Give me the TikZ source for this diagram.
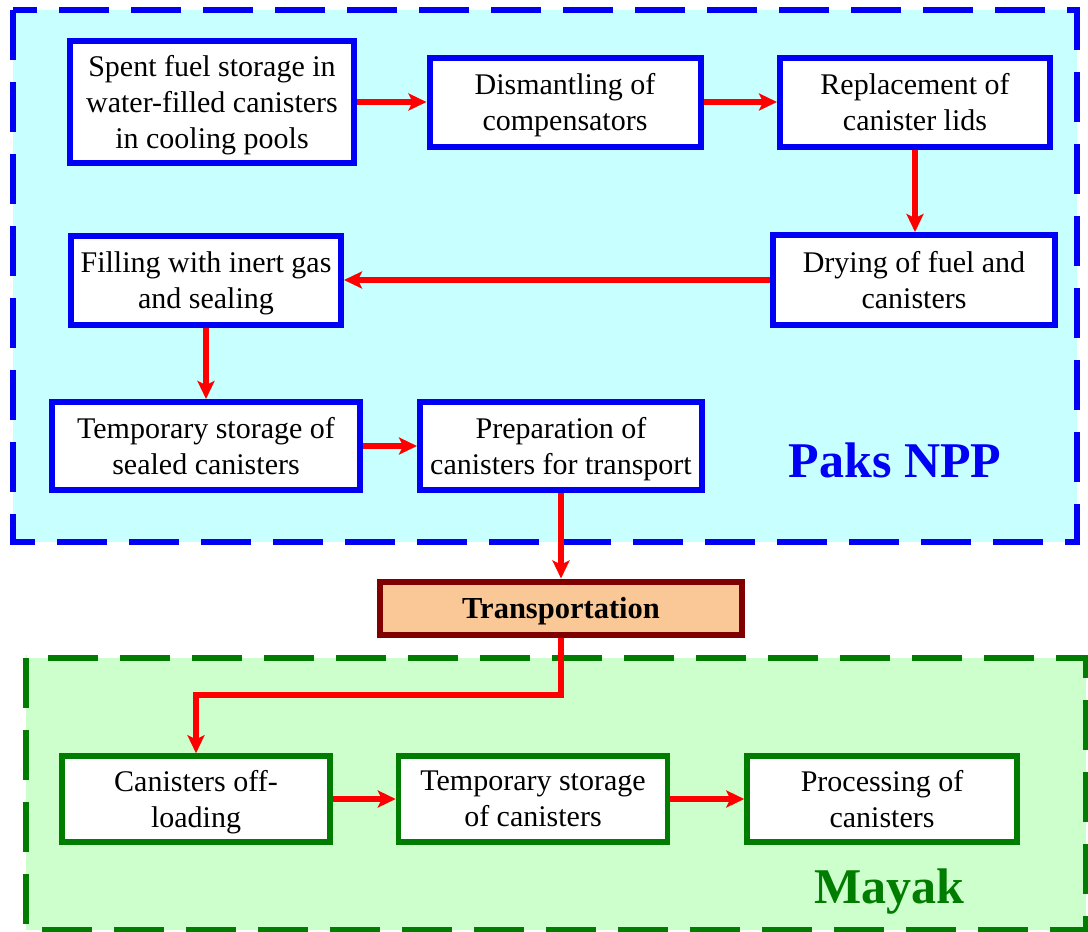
\documentclass[tikz,border=0pt]{standalone}
\usepackage{fontspec}
\setmainfont{Liberation Serif}
\usetikzlibrary{arrows.meta}
\definecolor{paksfill}{RGB}{200,255,255}
\definecolor{paksline}{RGB}{0,0,245}
\definecolor{mayakfill}{RGB}{204,255,204}
\definecolor{mayakline}{RGB}{0,125,0}
\definecolor{transfill}{RGB}{250,200,150}
\definecolor{transline}{RGB}{128,0,0}
\definecolor{arrowred}{RGB}{255,0,0}
\tikzset{
  region/.style={line width=5.5pt, dash pattern=on 50pt off 22pt},
  boxbase/.style={rectangle, fill=white, line width=6pt, align=center, inner sep=0pt,
    text depth=-4.5pt, font=\fontsize{30}{36}\selectfont},
  bluebox/.style={boxbase, draw=paksline},
  greenbox/.style={boxbase, draw=mayakline, line width=5.5pt},
  transbox/.style={rectangle, fill=transfill, draw=transline, line width=6pt, inner sep=0pt,
    text depth=-4pt, font=\fontsize{30.5}{36}\selectfont\bfseries},
  flow/.style={draw=arrowred, line width=6pt, -{Stealth[length=18pt,width=17pt,inset=4pt]}},
  title/.style={font=\fontsize{50}{60}\selectfont\bfseries, anchor=base, inner sep=0pt}
}
\begin{document}
\begin{tikzpicture}[x=1pt,y=-1pt]
\useasboundingbox (0,0) rectangle (1088,932);
% regions
\filldraw[region, fill=paksfill, draw=paksline] (13,10) rectangle (1077,542);
\filldraw[region, fill=mayakfill, draw=mayakline] (26,658) rectangle (1086,930);
% Paks boxes
\node[bluebox, minimum width=284pt, minimum height=122pt] (b1) at (212,102)
  {Spent fuel storage in\\water-filled canisters\\in cooling pools};
\node[bluebox, minimum width=271pt, minimum height=89pt] (b2) at (565,102)
  {Dismantling of\\compensators};
\node[bluebox, minimum width=270pt, minimum height=89pt] (b3) at (915,102)
  {Replacement of\\canister lids};
\node[bluebox, minimum width=282pt, minimum height=90pt] (b4) at (914,280)
  {Drying of fuel and\\canisters};
\node[bluebox, minimum width=270pt, minimum height=89pt] (b5) at (206,280)
  {Filling with inert gas\\and sealing};
\node[bluebox, minimum width=308pt, minimum height=88pt] (b6) at (206,446)
  {Temporary storage of\\sealed canisters};
\node[bluebox, minimum width=282pt, minimum height=88pt] (b7) at (561,446)
  {Preparation of\\canisters for transport};
\node[title, text=paksline] (paks) at (895,477) {Paks NPP};
% transport
\node[transbox, minimum width=362pt, minimum height=53pt] (tr) at (561,608) {Transportation};
% Mayak boxes
\node[greenbox, minimum width=268pt, minimum height=86pt] (m1) at (196,799)
  {Canisters off-\\loading};
\node[greenbox, minimum width=269pt, minimum height=86pt] (m2) at (533,799)
  {Temporary storage\\of canisters};
\node[greenbox, minimum width=270pt, minimum height=86pt] (m3) at (882,799)
  {Processing of\\canisters};
\node[title, text=mayakline] (mayak) at (889,903) {Mayak};
% arrows
\coordinate (bend) at (561,695);
\draw[flow] (b1.east |- b2.west) -- (b2.west);
\draw[flow] (b2.east) -- (b3.west);
\draw[flow] (b3.south) -- (b3.south |- b4.north);
\draw[flow] (b4.west) -- (b5.east);
\draw[flow] (b5.south) -- (b6.north);
\draw[flow] (b6.east) -- (b7.west);
\draw[flow] (b7.south) -- (tr.north);
\draw[flow] (tr.south) -- (bend) -| (m1.north);
\draw[flow] (m1.east) -- (m2.west);
\draw[flow] (m2.east) -- (m3.west);
\end{tikzpicture}
\end{document}
